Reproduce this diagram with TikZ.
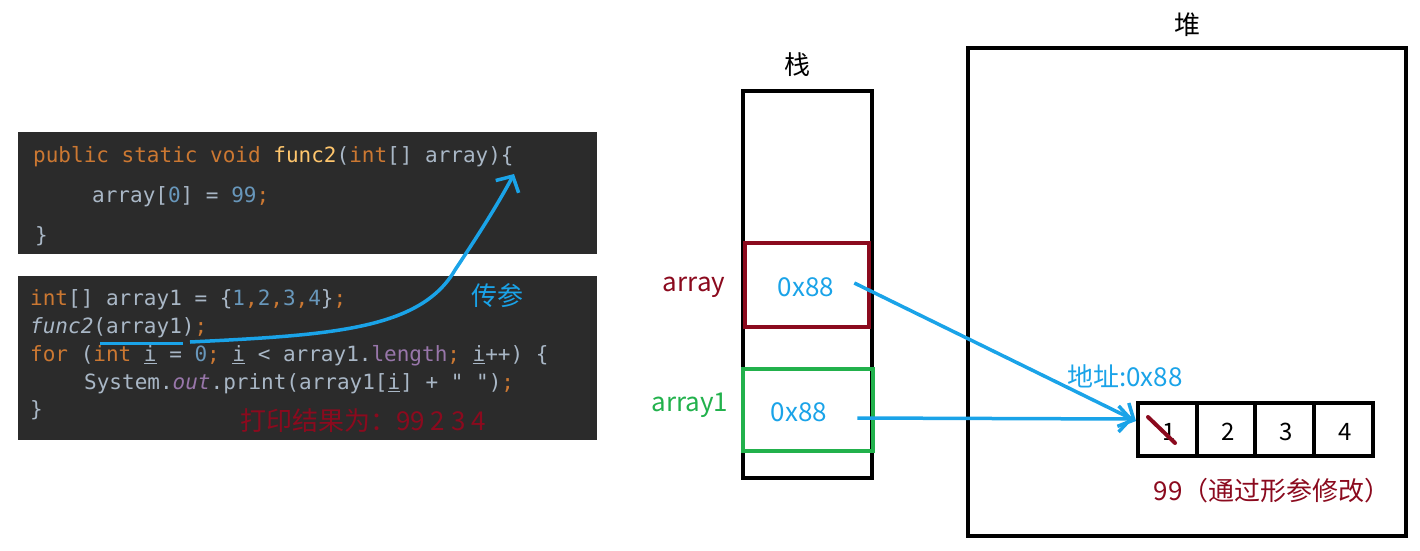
\documentclass[tikz,border=0pt]{standalone}
\usepackage{fontspec}
\setmainfont{Noto Sans CJK SC}
\newfontfamily\codefont{DejaVu Sans Mono}
\usetikzlibrary{arrows.meta}
\definecolor{bgc}{HTML}{2B2B2B}
\definecolor{kw}{HTML}{CC7832}
\definecolor{tx}{HTML}{A9B7C6}
\definecolor{nm}{HTML}{6897BB}
\definecolor{fn}{HTML}{FFC66D}
\definecolor{pu}{HTML}{9876AA}
\definecolor{dred}{HTML}{8B0A1E}
\definecolor{grn}{HTML}{22B14C}
\definecolor{blu}{HTML}{1AA3E8}
\begin{document}
\begin{tikzpicture}[x=1pt,y=-1pt,
  code/.style={anchor=west,inner sep=0pt,font=\codefont\fontsize{21}{21}\selectfont,text=tx},
  lbl/.style={inner sep=0pt,font=\fontsize{26}{26}\selectfont},
  box/.style={draw,line width=4pt},
  barrow/.style={blu,line width=3.5pt,-{Straight Barb[length=12pt,width=26pt]}}]
\useasboundingbox (0,0) rectangle (1420,550);
% code blocks
\fill[bgc] (18,132) rectangle (597,254);
\fill[bgc] (18,276) rectangle (597,440);
\node[code] (l1) at (33,157) {\textcolor{kw}{public static void }\textcolor{fn}{func2}(\textcolor{kw}{int}[] array)\{};
\node[code] (l2) at (92,197) {array[\textcolor{nm}{0}] = \textcolor{nm}{99}\textcolor{kw}{;}};
\node[code] (l3) at (35,236) {\}};
\node[code] (m1) at (30,300) {\textcolor{kw}{int}[] array1 = \{\textcolor{nm}{1}\textcolor{kw}{,}\textcolor{nm}{2}\textcolor{kw}{,}\textcolor{nm}{3}\textcolor{kw}{,}\textcolor{nm}{4}\}\textcolor{kw}{;}};
\node[code] (m2) at (30,328) {\textit{func2}(array1)\textcolor{kw}{;}};
\node[code] (m3) at (30,356) {\textcolor{kw}{for} (\textcolor{kw}{int} \underline{i} = \textcolor{nm}{0}\textcolor{kw}{;} \underline{i} < array1.\textcolor{pu}{length}\textcolor{kw}{;} \underline{i}++) \{};
\node[code] (m4) at (84,384) {System.\textcolor{pu}{\textit{out}}.print(array1[\underline{i}] + \textcolor{tx}{" "})\textcolor{kw}{;}};
\node[code] (m5) at (30,410) {\}};
\node[lbl,text=dred,anchor=west] (res) at (240,421) {打印结果为：99 2 3 4};
% pass arrow
\coordinate (u1) at (100,343);
\coordinate (u2) at (183,343);
\draw[blu,line width=3pt] (u1) -- (u2);
\coordinate (c0) at (190,342);
\coordinate (c1) at (514,174);
\draw[barrow] (c0) .. controls (330,335) and (420,330) .. (455,270) .. controls (485,225) and (500,200) .. (c1);
\node[lbl,text=blu] (cc) at (497,296) {传参};
% stack
\node[lbl] (stl) at (797,65) {栈};
\draw[box] (743,91) rectangle (872,478);
\draw[line width=4pt,dred] (745,243) rectangle (869,327);
\node[lbl,text=blu] (a0) at (806,287) {0x88};
\node[lbl,text=dred] (al) at (694,287) {array};
\draw[line width=4pt,grn] (743,369) rectangle (873,451);
\node[lbl,text=blu] (b0) at (799,412) {0x88};
\node[lbl,text=grn] (bl) at (690,405) {array1};
% heap
\node[lbl] (hl) at (1187,25) {堆};
\draw[box] (968,48) rectangle (1406,536);
\foreach \i/\v in {0/1,1/2,2/3,3/4}{
  \draw[line width=4pt] (1138+\i*58.7,403) rectangle (1138+\i*58.7+58.7,456);
  \node[lbl,font=\fontsize{24}{24}\selectfont] (c\v) at (1138+\i*58.7+31,432) {\v};
}
\draw[dred,line width=4pt,line cap=round] (1148,417) -- (1175,443);
\node[lbl,text=blu] (addr) at (1125,376) {地址:0x88};
\node[lbl,text=dred] (mod) at (1272,491) {99（通过形参修改）};
\coordinate (h1) at (1136,421);
\coordinate (h2) at (1133,419);
\draw[barrow] (a0.east)++(20,-4) -- (h1);
\draw[barrow] (b0.east)++(30,6) -- (h2);
\end{tikzpicture}
\end{document}
